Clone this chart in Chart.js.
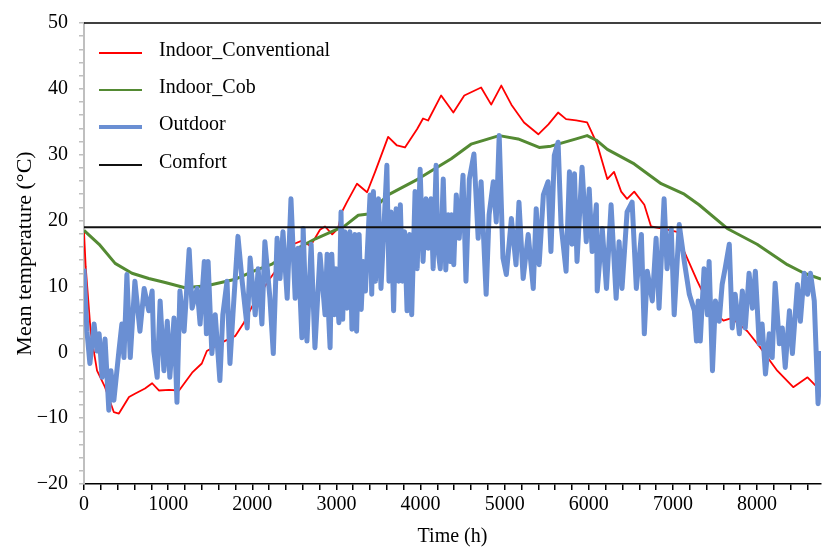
<!DOCTYPE html>
<html>
<head>
<meta charset="utf-8">
<title>Mean temperature</title>
<script src="https://cdn.jsdelivr.net/npm/chart.js@4.4.1/dist/chart.umd.min.js"></script>
<style>
  html, body { margin: 0; padding: 0; background: #fff; }
  #wrap { width: 822px; height: 550px; position: relative; }
</style>
</head>
<body>
<div id="wrap"><canvas id="tempChart" width="822" height="550"></canvas></div>
<script>
// ---------- data ----------
const convHours = [0,20,80,155,250,355,415,535,605,725,810,890,1010,1130,1285,1400,1460,1640,1800,1900,2000,2200,2400,2485,2600,2690,2805,2865,2950,3020,3065,3125,3245,3365,3460,3615,3720,3815,3960,4030,4090,4245,4390,4520,4720,4840,4960,5080,5230,5400,5520,5635,5730,5850,5980,6100,6220,6300,6385,6455,6540,6660,6740,6860,7050,7135,7290,7445,7600,7700,7885,8040,8240,8430,8600,8690,8750];
const convTemp  = [18.3,13,3,-2.8,-5.3,-9.1,-9.3,-6.8,-6.3,-5.5,-4.7,-5.8,-5.7,-5.8,-3.1,-1.7,0.2,1.5,2.5,4.5,7,11,14.5,16.4,17,16.1,18.6,19.1,17.9,18.8,21.3,22.8,25.6,24.3,27.4,32.7,31.4,31.1,33.9,35.5,35.2,39,36.4,39,40.2,37.6,40.5,37.6,34.9,33.1,34.6,36.4,35.4,35.2,34.9,31.6,26.3,27.4,24.4,23.3,24.4,22.4,19.1,18.8,18.3,15.3,10.8,6.7,4.8,5.2,3.2,0.7,-2.8,-5.3,-3.8,-5,-4.3];

const cobHours = [0,180,370,570,770,965,1200,1460,1800,2030,2235,2510,2745,2925,3100,3260,3380,3615,3970,4365,4600,4935,5160,5410,5550,5850,5980,6090,6220,6540,6860,7135,7310,7645,8000,8360,8560,8760];
const cobTemp  = [18.5,16.4,13.5,12,11.2,10.6,9.8,10.1,11.1,12.4,13.4,15.6,17.2,18.2,19.2,20.8,21,23.9,26.3,29.4,31.6,32.9,32.4,31.1,31.3,32.4,32.9,32.2,30.8,28.6,25.6,24,22.4,18.8,16.4,13.3,12,11.1];

const outHours = [
  0,35,70,120,155,180,215,250,295,320,355,415,450,475,510,550,605,665,715,770,810,830,870,905,950,990,
  1020,1070,1105,1140,1190,1250,1285,1345,1380,1430,1455,1475,1520,1560,1615,1650,1700,1735,1770,1830,1880,1940,1975,
  2035,2070,2115,2150,2210,2250,2295,2330,2365,2415,2460,2510,2545,2590,2605,2650,2700,2745,2805,2865,2890,2910,2925,2945,2975,2995,
  3030,3055,3075,3100,3125,3160,3185,3220,3240,3270,3295,3320,3345,3400,3420,3440,3465,3500,3530,3600,3625,3650,3680,3710,3740,3760,3785,3810,3840,3870,3895,3935,3960,3995,
  4030,4065,4090,4125,4150,4185,4205,4235,4270,4300,4330,4350,4370,4395,4425,4460,4505,4540,4580,4635,4685,4720,4780,4815,4865,4900,4935,4980,
  5020,5080,5135,5170,5220,5280,5340,5375,5410,5460,5515,5550,5590,5635,5670,5730,5770,5800,5830,5860,5920,5970,
  6005,6040,6090,6100,6160,6210,6265,6325,6360,6395,6455,6515,6565,6625,6660,6695,6755,6800,6835,6895,6930,6980,
  7015,7075,7135,7195,7255,7280,7300,7325,7370,7410,7430,7470,7505,7550,7585,7620,7670,7705,7740,7790,7825,7860,7905,7945,7980,
  8025,8060,8100,8145,8180,8215,8265,8300,8335,8385,8420,8480,8515,8560,8600,8635,8680,8725,8760
];
const outTemp = [
  12.7,3.2,-1.7,4.3,0.2,2.8,-3.8,2.0,-8.8,-2.8,-7.3,0.2,4.3,-0.8,11.8,-0.8,10.8,3.2,9.7,6.3,9.3,0.2,-3.8,7.8,-2.8,4.7,
  -3.8,5.2,-7.6,9.3,3.2,15.6,6.7,9.7,4.3,13.8,2.8,13.8,-0.2,5.7,-4.3,5.7,10.8,-1.7,5.7,17.6,10.8,3.7,14.3,
  5.7,12.7,4.3,16.8,8.2,-0.2,17.3,11.2,18.3,8.2,23.3,8.2,15.8,2.2,18.8,1.7,16.4,0.7,14.9,5.7,14.9,4.8,0.7,14.9,5.7,12.7,
  4.5,21.3,5.0,18.3,6.7,18.3,3.5,17.9,3.2,17.9,6.5,13.8,9.3,23.9,8.8,24.4,10.8,23.3,9.7,28.4,10.8,21.3,6.3,21.8,10.8,22.4,10.8,18.3,6.3,17.9,5.7,24.4,12.7,27.8,
  13.8,23.3,15.8,23.3,12.7,28.4,15.8,12.7,26.3,12.5,20.9,13.8,20.9,13.3,23.9,17.3,26.9,10.8,26.3,30.1,17.3,25.9,8.8,20.9,25.9,19.8,32.9,14.3,
  11.8,20.3,13.3,22.8,11.2,17.9,9.7,21.8,13.3,23.9,25.9,15.3,29.9,31.9,19.4,12.3,27.4,16.4,27.1,13.8,28.1,16.8,
  24.8,15.3,22.4,9.3,18.8,9.7,22.4,8.2,16.8,9.7,21.3,22.8,9.7,17.9,2.8,12.3,7.8,17.3,6.7,23.3,12.7,18.8,
  5.7,19.4,13.8,8.8,6.3,1.7,7.8,1.7,12.7,5.7,13.8,-2.8,7.8,4.7,10.3,12.7,16.4,3.7,8.8,2.8,9.3,3.7,12.0,6.7,12.3,
  1.3,4.3,-3.3,2.8,-0.8,10.5,1.3,3.7,-2.3,6.3,-0.2,10.3,4.7,12.0,8.8,12.0,7.8,-7.8,0.2
];

const comfortHours = [0, 8760];
const comfortTemp  = [19, 19];

const yTicksMajor = [-20, -10, 0, 10, 20, 30, 40, 50];
const xTicksMajor = [0, 1000, 2000, 3000, 4000, 5000, 6000, 7000, 8000];

// ---------- helpers ----------
const FONT = 'Liberation Serif, Times New Roman, serif';

function toPoints(hours, temps) {
  return hours.map((h, i) => ({ x: h, y: temps[i] }));
}

function minusSign(v) {
  return v < 0 ? '\u2212' + Math.abs(v) : String(v);
}

// legend drawn inside plot area, top-left
const innerLegend = {
  id: 'innerLegend',
  afterDraw(chart) {
    const { ctx, chartArea } = chart;
    const rows = [30, 67, 104, 142];
    ctx.save();
    ctx.font = '20px ' + FONT;
    ctx.textBaseline = 'middle';
    ctx.fillStyle = '#000';
    chart.data.datasets.forEach((ds, i) => {
      const y = chartArea.top + rows[i];
      ctx.strokeStyle = ds.borderColor;
      ctx.lineWidth = ds.legendWidth;
      ctx.beginPath();
      ctx.moveTo(chartArea.left + 15, y);
      ctx.lineTo(chartArea.left + 58, y);
      ctx.stroke();
      ctx.fillText(ds.label, chartArea.left + 75, y - 2);
    });
    ctx.restore();
  }
};

// black frame line along the top of the plot
const topBorder = {
  id: 'topBorder',
  afterDatasetsDraw(chart) {
    const { ctx, chartArea } = chart;
    ctx.save();
    ctx.strokeStyle = '#000';
    ctx.lineWidth = 1.5;
    ctx.beginPath();
    ctx.moveTo(chartArea.left, chartArea.top);
    ctx.lineTo(chartArea.right, chartArea.top);
    ctx.stroke();
    ctx.restore();
  }
};

// ---------- chart ----------
const ctx = document.getElementById('tempChart').getContext('2d');
new Chart(ctx, {
  type: 'line',
  data: {
    datasets: [
      { label: 'Indoor_Conventional', data: toPoints(convHours, convTemp),
        borderColor: '#ff0000', borderWidth: 1.8, legendWidth: 2, order: 3 },
      { label: 'Indoor_Cob', data: toPoints(cobHours, cobTemp),
        borderColor: '#548a33', borderWidth: 3, legendWidth: 2, order: 2 },
      { label: 'Outdoor', data: toPoints(outHours, outTemp),
        borderColor: '#6a8fd3', borderWidth: 5, legendWidth: 4, order: 1 },
      { label: 'Comfort', data: toPoints(comfortHours, comfortTemp),
        borderColor: '#111111', borderWidth: 2, legendWidth: 2, order: 0 }
    ]
  },
  options: {
    responsive: false,
    animation: false,
    layout: { padding: { top: 20, right: 1, left: 0, bottom: 0 } },
    elements: {
      point: { radius: 0 },
      line: { tension: 0, borderJoinStyle: 'round', borderCapStyle: 'butt' }
    },
    plugins: { legend: { display: false }, tooltip: { enabled: false } },
    scales: {
      x: {
        type: 'linear', min: 0, max: 8760,
        border: { display: true, color: '#000', width: 1.5 },
        grid: { drawOnChartArea: false, drawTicks: true, tickLength: 6, color: '#000', lineWidth: 1.5 },
        ticks: {
          autoSkip: false, maxRotation: 0, padding: 3,
          color: '#000', font: { family: FONT, size: 20 },
          callback: v => xTicksMajor.includes(Math.round(v)) ? String(Math.round(v)) : ''
        },
        // minor tick every 200 h, labelled every 1000 h
        afterBuildTicks: s => {
          const t = [];
          for (let v = 0; v <= 8600; v += 200) t.push({ value: v });
          s.ticks = t;
        },
        title: { display: true, text: 'Time (h)', color: '#000',
                 font: { family: FONT, size: 20 }, padding: { top: 0, bottom: 1 } },
        afterFit: s => { s.height = 66; }
      },
      y: {
        min: -20, max: 50,
        border: { display: true, color: '#bfbfbf', width: 2 },
        grid: { drawOnChartArea: false, drawTicks: true, tickLength: 5, color: '#bfbfbf', lineWidth: 1.5 },
        ticks: {
          stepSize: 2, autoSkip: false, padding: 11,
          color: '#000', font: { family: FONT, size: 20 },
          callback: v => yTicksMajor.includes(v) ? minusSign(v) : ''
        },
        title: { display: true, text: 'Mean temperature (\u00b0C)', color: '#000',
                 font: { family: FONT, size: 22 }, padding: { top: 12, bottom: 0 } },
        afterFit: s => { s.width = 84; }
      }
    }
  },
  plugins: [innerLegend, topBorder]
});
</script>
</body>
</html>
